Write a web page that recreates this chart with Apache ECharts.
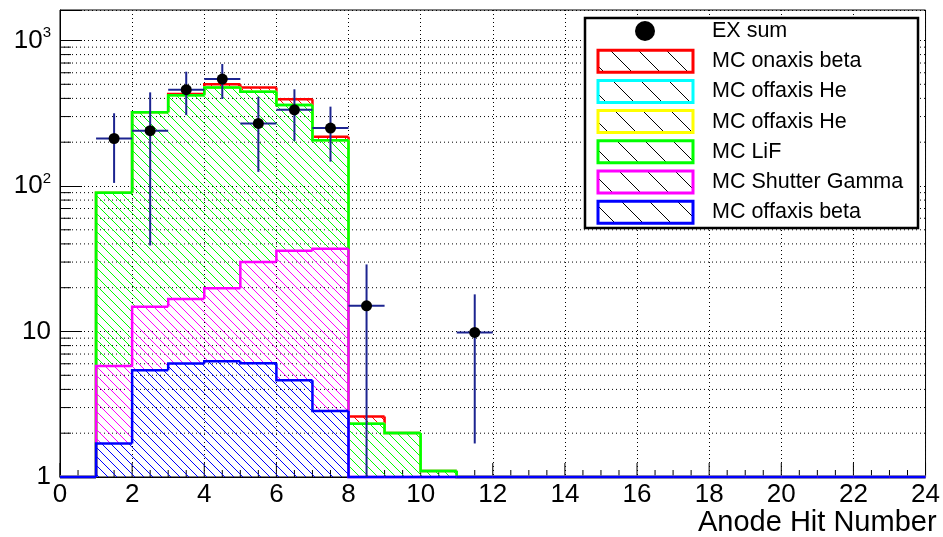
<!DOCTYPE html>
<html>
<head>
<meta charset="utf-8">
<script src="https://cdn.jsdelivr.net/npm/echarts@6/dist/echarts.min.js"></script>
<style>
html, body { margin: 0; padding: 0; background: #fff; }
#main { width: 943px; height: 537px; }
</style>
</head>
<body>
<div id="main"></div>
<script>
//------------------------- data -------------------------
// histogram bins: lower edge, width 1
var binLow = [0, 1, 2, 3, 4, 5, 6, 7, 8, 9, 10, 11, 12, 13, 14, 15, 16, 17, 18, 19, 20, 21, 22, 23];

// MC components, per bin (stack from bottom to top)
var offaxisBeta  = [0, 1.70, 5.42, 6.02, 6.25, 6.05, 4.62, 2.84, 0, 0, 0, 0, 0, 0, 0, 0, 0, 0, 0, 0, 0, 0, 0, 0];
var shutterGamma = [0, 4.10, 9.4, 10.7, 13.6, 24.0, 31.3, 34.2, 0, 0, 0, 0, 0, 0, 0, 0, 0, 0, 0, 0, 0, 0, 0, 0];
var lif          = [0, 84.0, 307, 403, 456, 415, 324, 169, 2.32, 2.01, 1.10, 0, 0, 0, 0, 0, 0, 0, 0, 0, 0, 0, 0, 0];
var offaxisHeY   = [0, 0, 0, 0, 0, 0, 0, 0, 0, 0, 0, 0, 0, 0, 0, 0, 0, 0, 0, 0, 0, 0, 0, 0];
var offaxisHeC   = [0, 0, 0, 0, 0, 0, 0, 0, 0, 0, 0, 0, 0, 0, 0, 0, 0, 0, 0, 0, 0, 0, 0, 0];
var onaxisBeta   = [0, 0, 0, 9, 24, 31, 34, 12, 0.28, 0, 0, 0, 0, 0, 0, 0, 0, 0, 0, 0, 0, 0, 0, 0];

// EX sum points with error bars
var exX    = [1.5, 2.5, 3.5, 4.5, 5.5, 6.5, 7.5, 8.5, 11.5];
var exY    = [212, 240, 459, 543, 269, 334, 250, 15.0, 9.85];
var exHigh = [316, 440, 610, 689, 411, 462, 351, 28.9, 18.0];
var exLow  = [105, 39, 307, 396, 125, 204, 147, 0, 1.70];

// tick values
var xTicks = [0, 0.5, 1, 1.5, 2, 2.5, 3, 3.5, 4, 4.5, 5, 5.5, 6, 6.5, 7, 7.5, 8, 8.5, 9, 9.5, 10, 10.5, 11, 11.5,
              12, 12.5, 13, 13.5, 14, 14.5, 15, 15.5, 16, 16.5, 17, 17.5, 18, 18.5, 19, 19.5, 20, 20.5, 21, 21.5, 22, 22.5, 23, 23.5, 24];
var yMinorTicks = [2, 3, 4, 5, 6, 7, 8, 9, 20, 30, 40, 50, 60, 70, 80, 90, 200, 300, 400, 500, 600, 700, 800, 900];

var xTitle = 'Anode Hit Number';
var exName = 'EX sum';

var yMin = 1, yMax = 1620;
var FONT = '"Liberation Sans", Arial, Helvetica, sans-serif';

//------------------------- helpers -------------------------
// ROOT-like hatch "\\" pattern
function hatch(color, size) {
	var c = document.createElement('canvas');
	c.width = size; c.height = size;
	var g = c.getContext('2d');
	g.fillStyle = color;
	for (var k = 0; k < size; k++) g.fillRect(k, k, 1, 1);
	return { image: c, repeat: 'repeat' };
}
function clampY(v) { return Math.max(v, yMin); }

// stack from bottom to top
var stackOrder = [
	{ name: 'MC offaxis beta',  color: '#0000ff', data: offaxisBeta },
	{ name: 'MC Shutter Gamma', color: '#ff00ff', data: shutterGamma },
	{ name: 'MC LiF',           color: '#00ff00', data: lif },
	{ name: 'MC offaxis He',    color: '#ffff00', data: offaxisHeY },
	{ name: 'MC offaxis He',    color: '#00ffff', data: offaxisHeC },
	{ name: 'MC onaxis beta',   color: '#ff0000', data: onaxisBeta }
];
var running = binLow.map(function () { return 0; });
stackOrder.forEach(function (s) {
	s.lo = running.slice();
	s.hi = running.map(function (v, i) { return v + s.data[i]; });
	running = s.hi.slice();
	s.pattern = hatch(s.color, 9);
});

function stackRender(s) {
	return function (params, api) {
		var i = api.value(0);
		var lo = s.lo[i], hi = s.hi[i];
		var prev = i > 0 ? s.hi[i - 1] : 0;
		var a = api.coord([i, clampY(lo)]);
		var b = api.coord([i + 1, clampY(hi)]);
		var p = api.coord([i, clampY(prev)]);
		var kids = [];
		if (hi > lo && hi > yMin) {
			kids.push({
				type: 'rect',
				shape: { x: a[0], y: b[1], width: b[0] - a[0], height: a[1] - b[1] },
				style: { fill: s.pattern }
			});
		}
		kids.push({
			type: 'polyline',
			shape: { points: [p, [a[0], b[1]], b] },
			style: { stroke: s.color, lineWidth: 2.5, fill: null }
		});
		return { type: 'group', children: kids };
	};
}

var series = [];

// log minor grid + ticks on y
series.push({
	type: 'custom',
	z: 1,
	silent: true,
	clip: false,
	data: yMinorTicks.map(function (v) { return [0, v]; }),
	encode: { x: 0, y: 1 },
	renderItem: function (params, api) {
		var p = api.coord([0, api.value(1)]);
		var cs = params.coordSys;
		return {
			type: 'group', children: [
				{ type: 'line', shape: { x1: cs.x, y1: p[1], x2: cs.x + cs.width, y2: p[1] },
				  style: { stroke: '#000', lineWidth: 1, lineDash: [1, 3] } },
				{ type: 'line', shape: { x1: cs.x, y1: p[1], x2: cs.x + 11, y2: p[1] },
				  style: { stroke: '#000', lineWidth: 1 } }
			]
		};
	}
});

// x ticks (inside, ROOT style)
series.push({
	type: 'custom',
	z: 1,
	silent: true,
	clip: false,
	data: xTicks.map(function (x) { return [x, yMin]; }),
	encode: { x: 0, y: 1 },
	renderItem: function (params, api) {
		var x = api.value(0);
		var p = api.coord([x, yMin]);
		var len = (x % 2 === 0) ? 14 : 7;
		return {
			type: 'line', shape: { x1: p[0], y1: p[1], x2: p[0], y2: p[1] - len },
			style: { stroke: '#000', lineWidth: 1 }
		};
	}
});

// stacked MC, top-most drawn first like THStack
for (var k = stackOrder.length - 1; k >= 0; k--) {
	var s = stackOrder[k];
	series.push({
		type: 'custom',
		name: s.name,
		silent: true,
		clip: false,
		data: binLow.map(function (x) { return [x]; }),
		encode: { x: 0 },
		renderItem: stackRender(s)
	});
}

// EX sum points
series.push({
	type: 'custom',
	name: exName,
	silent: true,
	clip: false,
	z: 5,
	data: exX.map(function (x, i) { return [x, exY[i], exLow[i], exHigh[i]]; }),
	encode: { x: 0, y: 1 },
	renderItem: function (params, api) {
		var x = api.value(0);
		var c = api.coord([x, api.value(1)]);
		var t = api.coord([x, clampY(api.value(3))]);
		var b = api.coord([x, clampY(api.value(2))]);
		var l = api.coord([x - 0.5, api.value(1)]);
		var r = api.coord([x + 0.5, api.value(1)]);
		var st = { stroke: '#1c2490', lineWidth: 2 };
		return {
			type: 'group', children: [
				{ type: 'line', shape: { x1: t[0], y1: t[1], x2: b[0], y2: b[1] }, style: st },
				{ type: 'line', shape: { x1: l[0], y1: l[1], x2: r[0], y2: r[1] }, style: st },
				{ type: 'circle', shape: { cx: c[0], cy: c[1], r: 5.5 }, style: { fill: '#000' } }
			]
		};
	}
});

//------------------------- legend (graphic) -------------------------
var legendX = 585, legendY = 18, legendW = 333, legendH = 210;
var rowY0 = 31, rowStep = 30.2;
var legendPattern = hatch('#000', 28);
var graphics = [{
	type: 'rect', z: 100,
	shape: { x: legendX, y: legendY, width: legendW, height: legendH },
	style: { fill: '#fff', stroke: '#000', lineWidth: 2.5 }
}, {
	type: 'circle', z: 101,
	shape: { cx: 645, cy: rowY0, r: 10 },
	style: { fill: '#000' }
}, {
	type: 'text', z: 101, x: 712, y: rowY0,
	style: { text: exName, font: '21.5px ' + FONT, fill: '#000', verticalAlign: 'middle' }
}];
stackOrder.slice().reverse().forEach(function (s, i) {
	var y = rowY0 + rowStep * (i + 1);
	graphics.push({
		type: 'rect', z: 101,
		shape: { x: 598, y: y - 11, width: 95, height: 22 },
		style: { fill: legendPattern, stroke: s.color, lineWidth: 3 }
	});
	graphics.push({
		type: 'text', z: 101, x: 712, y: y,
		style: { text: s.name, font: '21.5px ' + FONT, fill: '#000', verticalAlign: 'middle' }
	});
});

//------------------------- chart -------------------------
var myChart = echarts.init(document.getElementById('main'), null, { renderer: 'canvas' });
var option = {
	animation: false,
	backgroundColor: '#fff',
	textStyle: { fontFamily: FONT },
	grid: { left: 60, right: 17, top: 10, bottom: 60, show: true, borderColor: '#000', borderWidth: 1, backgroundColor: 'transparent' },
	xAxis: {
		type: 'value', min: 0, max: 24, interval: 2,
		name: xTitle, nameLocation: 'end', nameGap: 11,
		nameTextStyle: { fontSize: 29, color: '#000', align: 'right', verticalAlign: 'top', padding: [31, 0, 0, 0], fontFamily: FONT },
		axisLine: { show: true, lineStyle: { color: '#000', width: 1 } },
		axisTick: { show: false },
		minorTick: { show: false },
		axisLabel: { fontSize: 26, color: '#000', margin: 5, showMinLabel: true, showMaxLabel: true, fontFamily: FONT },
		splitLine: { show: true, lineStyle: { color: '#000', width: 1, type: [1, 3] } }
	},
	yAxis: {
		type: 'log', logBase: 10, min: yMin, max: yMax,
		axisLine: { show: true, lineStyle: { color: '#000', width: 1 } },
		axisTick: { show: true, inside: true, length: 22, lineStyle: { color: '#000' } },
		axisLabel: {
			color: '#000', margin: 9, fontFamily: FONT,
			formatter: function (v) {
				var e = Math.log(v) / Math.LN10;
				if (Math.abs(e - Math.round(e)) > 1e-6) return '';
				e = Math.round(e);
				if (e === 0) return '{b|1}';
				if (e === 1) return '{b|10}';
				return '{b|10}{s|' + e + '}';
			},
			rich: {
				b: { fontSize: 26, fontFamily: FONT, color: '#000', lineHeight: 30 },
				s: { fontSize: 15, fontFamily: FONT, color: '#000', verticalAlign: 'top', lineHeight: 30, padding: [0, 0, 14, 0] }
			}
		},
		splitLine: { show: true, lineStyle: { color: '#000', width: 1, type: [1, 3] } }
	},
	series: series,
	graphic: graphics
};
myChart.setOption(option);
</script>
</body>
</html>
